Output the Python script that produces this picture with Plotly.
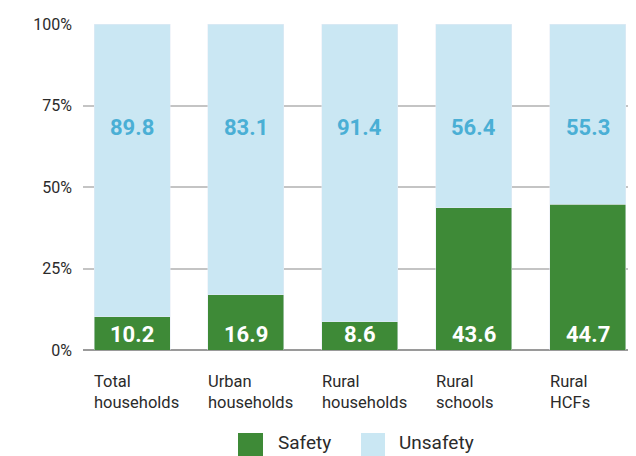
import plotly.graph_objects as go

categories = ["Total<br>households", "Urban<br>households", "Rural<br>households", "Rural<br>schools", "Rural<br>HCFs"]
safety = [10.2, 16.9, 8.6, 43.6, 44.7]
unsafety = [89.8, 83.1, 91.4, 56.4, 55.3]
tick_vals = [0, 25, 50, 75, 100]
tick_text = ["0%", "25%", "50%", "75%", "100%"]

GREEN = "#3e8a37"
LIGHT = "#cae7f3"
LABEL_BLUE = "#4aafd5"
TEXT = "#2b2b2b"
FONT = "Roboto, sans-serif"

# plot area in screen pixels (for manual legend / label placement)
PX0, PX1, PY0, PY1 = 83, 630, 24, 350


def px_x(px):
    return (px - PX0) / (PX1 - PX0)


def px_y(py):
    return (PY1 - py) / (PY1 - PY0)


x = list(range(len(categories)))
BW = 0.667

fig = go.Figure()
fig.add_bar(x=x, y=safety, name="Safety", marker_color=GREEN, width=BW, showlegend=False)
fig.add_bar(x=x, y=unsafety, name="Unsafety", marker_color=LIGHT, width=BW, showlegend=False)

ann = []
for i in x:
    ann.append(dict(x=i, y=68.4, text=f"<b>{unsafety[i]}</b>", showarrow=False,
                    font=dict(family=FONT, size=22, color=LABEL_BLUE), xref="x", yref="y"))
    ann.append(dict(x=i, y=4.8, text=f"<b>{safety[i]}</b>", showarrow=False,
                    font=dict(family=FONT, size=22, color="white"), xref="x", yref="y"))
    ann.append(dict(x=i - BW / 2 - 0.01, y=px_y(392), text=categories[i], showarrow=False,
                    xanchor="left", yanchor="middle", align="left", borderpad=0,
                    font=dict(family=FONT, size=16.5, color=TEXT), xref="x", yref="paper"))

# legend drawn manually
shapes = [
    dict(type="rect", xref="paper", yref="paper", x0=px_x(238), x1=px_x(263),
         y0=px_y(470), y1=px_y(433), fillcolor=GREEN, line_width=0),
    dict(type="rect", xref="paper", yref="paper", x0=px_x(361), x1=px_x(385),
         y0=px_y(470), y1=px_y(433), fillcolor=LIGHT, line_width=0),
]
ann.append(dict(xref="paper", yref="paper", x=px_x(277), y=px_y(443), text="Safety",
                showarrow=False, xanchor="left", yanchor="middle", borderpad=0,
                font=dict(family=FONT, size=19, color=TEXT)))
ann.append(dict(xref="paper", yref="paper", x=px_x(398), y=px_y(443), text="Unsafety",
                showarrow=False, xanchor="left", yanchor="middle", borderpad=0,
                font=dict(family=FONT, size=19, color=TEXT)))

fig.update_layout(
    barmode="stack",
    width=628, height=448,
    margin=dict(l=75, r=6, t=16, b=106),
    plot_bgcolor="white", paper_bgcolor="white",
    annotations=ann, shapes=shapes,
    showlegend=False,
    font=dict(family=FONT, size=16, color=TEXT),
)
fig.update_xaxes(range=[-0.43, 4.37], showticklabels=False, showgrid=False, zeroline=False,
                 showline=False, ticks="")
fig.update_yaxes(range=[0, 100], tickvals=tick_vals, ticktext=tick_text, showgrid=True,
                 gridcolor="#c4c4c4", gridwidth=1.5, zeroline=True, zerolinecolor="#9a9a9a",
                 zerolinewidth=1.5, ticks="", ticklabelstandoff=10,
                 tickfont=dict(family=FONT, size=16, color=TEXT))

fig.write_html("out.html")
